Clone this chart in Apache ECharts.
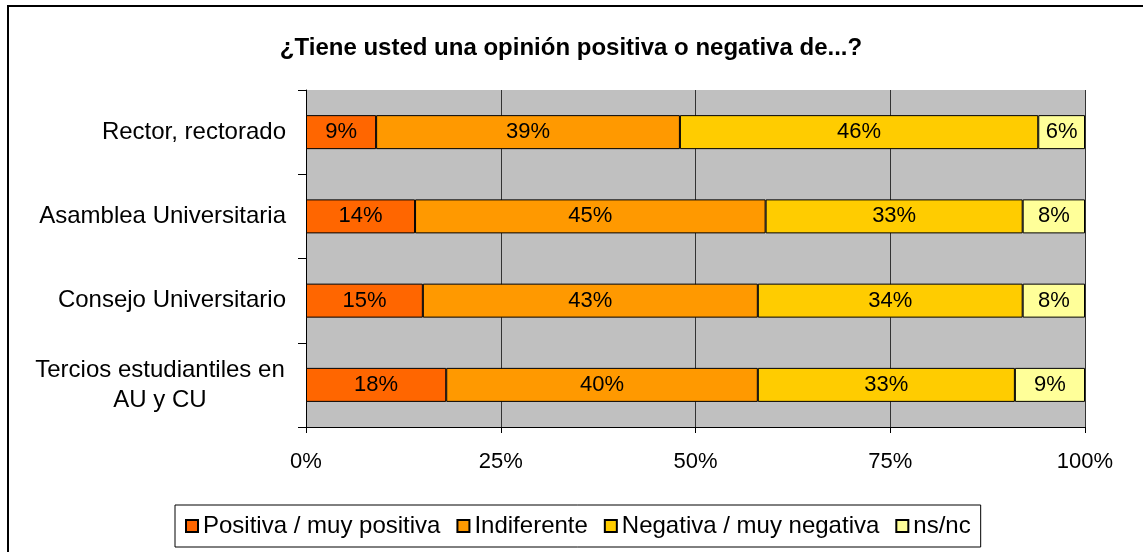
<!DOCTYPE html>
<html>
<head>
<meta charset="utf-8">
<script src="https://cdn.jsdelivr.net/npm/echarts@6/dist/echarts.min.js"></script>
<style>html,body{margin:0;padding:0;background:#fff}#c{width:1143px;height:552px}</style>
</head>
<body>
<div id="c"></div>
<script>
const categories = ['Rector, rectorado', 'Asamblea Universitaria', 'Consejo Universitario', 'Tercios estudiantiles en\nAU y CU'];
const seriesNames = ['Positiva / muy positiva', 'Indiferente', 'Negativa / muy negativa', 'ns/nc'];
const positiva = [9, 14, 15, 18];
const indiferente = [39, 45, 43, 40];
const negativa = [46, 33, 34, 33];
const nsnc = [6, 8, 8, 9];
const colors = ['#FF6600', '#FF9900', '#FFCC00', '#FFFF99'];
const xTicks = [0, 25, 50, 75, 100];

const font = 'Liberation Sans, Arial, sans-serif';
const chart = echarts.init(document.getElementById('c'), null, {renderer: 'canvas'});
const dataSets = [positiva, indiferente, negativa, nsnc];
const series = dataSets.map((d, i) => ({
  name: seriesNames[i],
  type: 'bar',
  stack: 'total',
  data: d,
  barWidth: 34,
  itemStyle: {color: colors[i], borderColor: '#000', borderWidth: 1},
  label: {show: true, position: 'inside', formatter: '{c}%', color: '#000', fontSize: 22, fontFamily: font},
  emphasis: {disabled: true}
}));

chart.setOption({
  backgroundColor: '#fff',
  animation: false,
  textStyle: {fontFamily: font},
  title: {
    text: '¿Tiene usted una opinión positiva o negativa de...?',
    left: 566, top: 31, textAlign: 'center',
    textStyle: {fontSize: 24, fontWeight: 'bold', color: '#000', fontFamily: font}
  },
  graphic: [{
    type: 'rect', shape: {x: 8, y: 6, width: 1160, height: 570},
    style: {fill: null, stroke: '#000', lineWidth: 2}, silent: true, z: 100
  }],
  grid: {left: 306, right: 58, top: 90, bottom: 125, show: true, backgroundColor: '#C0C0C0', borderWidth: 0},
  xAxis: {
    type: 'value', min: 0, max: 100, interval: 25,
    axisLine: {show: true, lineStyle: {color: '#000', width: 1}},
    axisTick: {show: true, length: 6, lineStyle: {color: '#000'}},
    splitLine: {show: true, lineStyle: {color: '#333', width: 1}},
    axisLabel: {formatter: v => xTicks.includes(v) ? v + '%' : '', fontSize: 22, color: '#000', margin: 24, fontFamily: font}
  },
  yAxis: {
    type: 'category', data: categories, inverse: true,
    axisLine: {show: true, lineStyle: {color: '#000'}},
    axisTick: {show: true, length: 8, lineStyle: {color: '#000'}},
    axisLabel: {
      fontSize: 24, color: '#000', margin: 20, fontFamily: font,
      formatter: v => v.indexOf('\n') >= 0 ? v.split('\n').map(s => '{c|' + s + '}').join('\n') : v,
      rich: {c: {width: 252, align: 'center', fontSize: 24, color: '#000', fontFamily: font, lineHeight: 30}}
    }
  },
  legend: {
    left: 175, top: 505,
    data: seriesNames,
    icon: 'rect', itemWidth: 12, itemHeight: 12, itemGap: 16,
    borderColor: '#000', borderWidth: 1, padding: [9, 10],
    textStyle: {fontSize: 24, color: '#000', fontFamily: font},
    selectedMode: false
  },
  series: series
});
</script>
</body>
</html>
